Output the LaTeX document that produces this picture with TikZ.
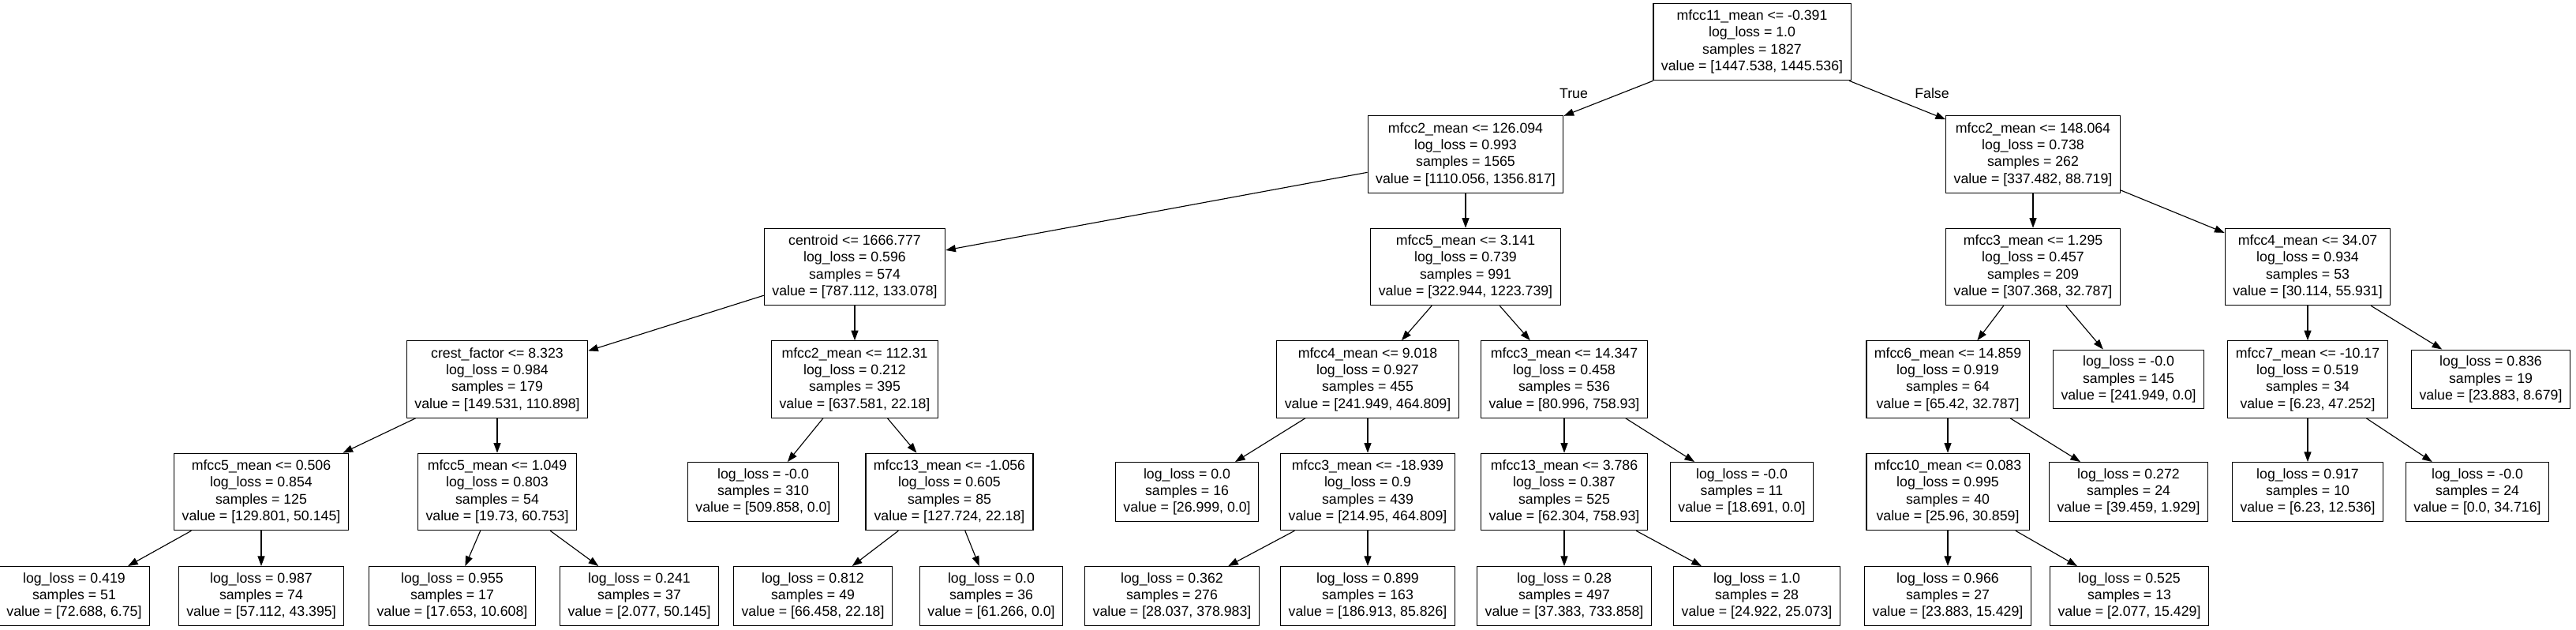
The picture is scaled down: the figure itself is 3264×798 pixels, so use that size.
\documentclass[tikz,border=0pt]{standalone}
\usepackage{fontspec}
\setmainfont{Liberation Sans}
\usetikzlibrary{arrows.meta}
\begin{document}
\begin{tikzpicture}[x=0.75pt,y=-0.75pt,
  every node/.style={font=\fontsize{13.3}{16}\selectfont},
  dn/.style={draw=black,line width=0.95pt,rectangle,align=center,inner xsep=7.5pt,inner ysep=3pt,minimum height=73pt},
  lf/.style={draw=black,line width=0.95pt,rectangle,align=center,inner xsep=7.5pt,inner ysep=3pt,minimum height=56pt},
  edge/.style={draw=black,line width=0.85pt,-{Triangle[length=9.5pt,width=6.8pt]}},
  lab/.style={inner sep=0pt}]
\useasboundingbox (0,0) rectangle (3264,798);
\def\ra{53}\def\rb{195.5}\def\rc{338}\def\rd{480.5}\def\re{623}\def\rf{755}
% rank 0
\node[dn] (n0) at (2220,\ra) {mfcc11\_mean <= -0.391\\log\_loss = 1.0\\samples = 1827\\value = [1447.538, 1445.536]};
% rank 1
\node[dn] (n1) at (1857,\rb) {mfcc2\_mean <= 126.094\\log\_loss = 0.993\\samples = 1565\\value = [1110.056, 1356.817]};
\node[dn] (n26) at (2576,\rb) {mfcc2\_mean <= 148.064\\log\_loss = 0.738\\samples = 262\\value = [337.482, 88.719]};
% rank 2
\node[dn] (n2) at (1083,\rc) {centroid <= 1666.777\\log\_loss = 0.596\\samples = 574\\value = [787.112, 133.078]};
\node[dn] (n15) at (1857,\rc) {mfcc5\_mean <= 3.141\\log\_loss = 0.739\\samples = 991\\value = [322.944, 1223.739]};
\node[dn] (n27) at (2576,\rc) {mfcc3\_mean <= 1.295\\log\_loss = 0.457\\samples = 209\\value = [307.368, 32.787]};
\node[dn] (n34) at (2924,\rc) {mfcc4\_mean <= 34.07\\log\_loss = 0.934\\samples = 53\\value = [30.114, 55.931]};
% rank 3
\node[dn] (n3) at (630,\rd) {crest\_factor <= 8.323\\log\_loss = 0.984\\samples = 179\\value = [149.531, 110.898]};
\node[dn] (n10) at (1083,\rd) {mfcc2\_mean <= 112.31\\log\_loss = 0.212\\samples = 395\\value = [637.581, 22.18]};
\node[dn] (n16) at (1733,\rd) {mfcc4\_mean <= 9.018\\log\_loss = 0.927\\samples = 455\\value = [241.949, 464.809]};
\node[dn] (n21) at (1982,\rd) {mfcc3\_mean <= 14.347\\log\_loss = 0.458\\samples = 536\\value = [80.996, 758.93]};
\node[dn] (n28) at (2468,\rd) {mfcc6\_mean <= 14.859\\log\_loss = 0.919\\samples = 64\\value = [65.42, 32.787]};
\node[lf] (n33) at (2697,\rd) {log\_loss = -0.0\\samples = 145\\value = [241.949, 0.0]};
\node[dn] (n35) at (2924,\rd) {mfcc7\_mean <= -10.17\\log\_loss = 0.519\\samples = 34\\value = [6.23, 47.252]};
\node[lf] (n38) at (3156,\rd) {log\_loss = 0.836\\samples = 19\\value = [23.883, 8.679]};
% rank 4
\node[dn] (n4) at (331,\re) {mfcc5\_mean <= 0.506\\log\_loss = 0.854\\samples = 125\\value = [129.801, 50.145]};
\node[dn] (n7) at (630,\re) {mfcc5\_mean <= 1.049\\log\_loss = 0.803\\samples = 54\\value = [19.73, 60.753]};
\node[lf] (n11) at (967,\re) {log\_loss = -0.0\\samples = 310\\value = [509.858, 0.0]};
\node[dn] (n12) at (1203,\re) {mfcc13\_mean <= -1.056\\log\_loss = 0.605\\samples = 85\\value = [127.724, 22.18]};
\node[lf] (n17) at (1504,\re) {log\_loss = 0.0\\samples = 16\\value = [26.999, 0.0]};
\node[dn] (n18) at (1733,\re) {mfcc3\_mean <= -18.939\\log\_loss = 0.9\\samples = 439\\value = [214.95, 464.809]};
\node[dn] (n22) at (1982,\re) {mfcc13\_mean <= 3.786\\log\_loss = 0.387\\samples = 525\\value = [62.304, 758.93]};
\node[lf] (n25) at (2207,\re) {log\_loss = -0.0\\samples = 11\\value = [18.691, 0.0]};
\node[dn] (n29) at (2468,\re) {mfcc10\_mean <= 0.083\\log\_loss = 0.995\\samples = 40\\value = [25.96, 30.859]};
\node[lf] (n32) at (2697,\re) {log\_loss = 0.272\\samples = 24\\value = [39.459, 1.929]};
\node[lf] (n36) at (2924,\re) {log\_loss = 0.917\\samples = 10\\value = [6.23, 12.536]};
\node[lf] (n37) at (3139,\re) {log\_loss = -0.0\\samples = 24\\value = [0.0, 34.716]};
% rank 5
\node[lf] (n5) at (94,\rf) {log\_loss = 0.419\\samples = 51\\value = [72.688, 6.75]};
\node[lf] (n6) at (331,\rf) {log\_loss = 0.987\\samples = 74\\value = [57.112, 43.395]};
\node[lf] (n8) at (573,\rf) {log\_loss = 0.955\\samples = 17\\value = [17.653, 10.608]};
\node[lf] (n9) at (810,\rf) {log\_loss = 0.241\\samples = 37\\value = [2.077, 50.145]};
\node[lf] (n13) at (1030,\rf) {log\_loss = 0.812\\samples = 49\\value = [66.458, 22.18]};
\node[lf] (n14) at (1256,\rf) {log\_loss = 0.0\\samples = 36\\value = [61.266, 0.0]};
\node[lf] (n19) at (1485,\rf) {log\_loss = 0.362\\samples = 276\\value = [28.037, 378.983]};
\node[lf] (n20) at (1733,\rf) {log\_loss = 0.899\\samples = 163\\value = [186.913, 85.826]};
\node[lf] (n23) at (1982,\rf) {log\_loss = 0.28\\samples = 497\\value = [37.383, 733.858]};
\node[lf] (n24) at (2226,\rf) {log\_loss = 1.0\\samples = 28\\value = [24.922, 25.073]};
\node[lf] (n30) at (2468,\rf) {log\_loss = 0.966\\samples = 27\\value = [23.883, 15.429]};
\node[lf] (n31) at (2698,\rf) {log\_loss = 0.525\\samples = 13\\value = [2.077, 15.429]};
% labels
\node[lab] (tl) at (1994,118) {True};
\node[lab] (fl) at (2448,118) {False};
% edges
\foreach \a/\b in {n0/n1,n0/n26,n1/n2,n1/n15,n2/n3,n2/n10,n3/n4,n3/n7,n4/n5,n4/n6,n7/n8,n7/n9,n10/n11,n10/n12,n12/n13,n12/n14,n15/n16,n15/n21,n16/n17,n16/n18,n18/n19,n18/n20,n21/n22,n21/n25,n22/n23,n22/n24,n26/n27,n26/n34,n27/n28,n27/n33,n28/n29,n28/n32,n29/n30,n29/n31,n34/n35,n34/n38,n35/n36,n35/n37}
  \draw[edge] (\a) -- (\b);
\end{tikzpicture}
\end{document}
